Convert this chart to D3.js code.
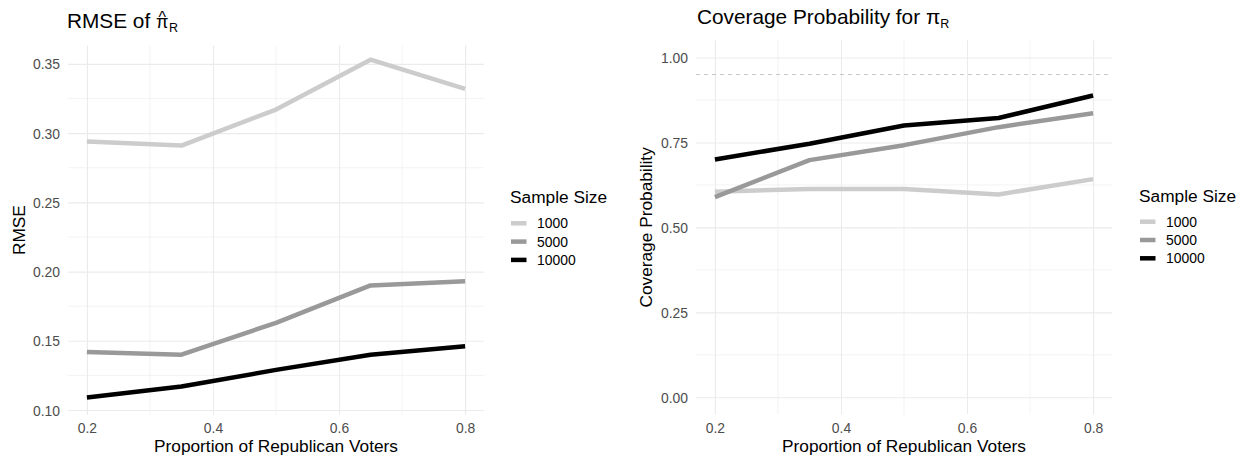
<!DOCTYPE html>
<html>
<head>
<meta charset="utf-8">
<script src="https://cdn.jsdelivr.net/npm/d3@7"></script>
<style>
  html, body { margin: 0; padding: 0; background: #fff; }
  text { font-family: "Liberation Sans", Arial, Helvetica, sans-serif; }
</style>
</head>
<body>
<svg id="chart" width="1246" height="457"></svg>
<script>
// Simulation results by proportion of Republican voters
const proportions = [0.2, 0.35, 0.5, 0.65, 0.8];
const sampleSizes = ["1000", "5000", "10000"];
const lineColors = ["#cccccc", "#999999", "#000000"];

const rmse1000  = [0.294, 0.291, 0.317, 0.353, 0.332];
const rmse5000  = [0.142, 0.140, 0.163, 0.190, 0.193];
const rmse10000 = [0.109, 0.117, 0.129, 0.140, 0.146];

const cover1000  = [0.605, 0.613, 0.613, 0.597, 0.642];
const cover5000  = [0.589, 0.698, 0.742, 0.795, 0.836];
const cover10000 = [0.700, 0.746, 0.800, 0.822, 0.888];

const xTicks = [0.2, 0.4, 0.6, 0.8];
const xMinor = [0.3, 0.5, 0.7];
const rmseTicks = [0.10, 0.15, 0.20, 0.25, 0.30, 0.35];
const rmseMinor = [0.125, 0.175, 0.225, 0.275, 0.325];
const coverTicks = [0.00, 0.25, 0.50, 0.75, 1.00];
const coverMinor = [0.125, 0.375, 0.625, 0.875];
const nominalLevel = 0.95;

const svg = d3.select("#chart");
const gridColor = "#ebebeb";
const tickSize = "13.9px";
const titleSize = "17.3px";

function expand(lo, hi) {
  const pad = (hi - lo) * 0.05;
  return [lo - pad, hi + pad];
}

function drawPanel(opt) {
  const g = svg.append("g");
  const x = d3.scaleLinear().domain(expand(0.2, 0.8)).range([opt.left, opt.right]);
  const y = d3.scaleLinear().domain(expand(opt.yMin, opt.yMax)).range([opt.bottom, opt.top]);

  // minor grid
  g.selectAll(".xminor").data(xMinor).join("line")
    .attr("x1", d => x(d)).attr("x2", d => x(d))
    .attr("y1", opt.top).attr("y2", opt.bottom)
    .attr("stroke", gridColor).attr("stroke-width", 0.6);
  g.selectAll(".yminor").data(opt.yMinor).join("line")
    .attr("x1", opt.left).attr("x2", opt.right)
    .attr("y1", d => y(d)).attr("y2", d => y(d))
    .attr("stroke", gridColor).attr("stroke-width", 0.6);

  // major grid and tick labels via axes
  const xAxis = g.append("g").attr("transform", `translate(0,${opt.bottom})`)
    .call(d3.axisBottom(x).tickValues(xTicks).tickFormat(d3.format(".1f"))
      .tickSize(-(opt.bottom - opt.top)));
  const yAxis = g.append("g").attr("transform", `translate(${opt.left},0)`)
    .call(d3.axisLeft(y).tickValues(opt.yTicks).tickFormat(d3.format(".2f"))
      .tickSize(-(opt.right - opt.left)).tickPadding(8));
  [xAxis, yAxis].forEach(a => {
    a.select(".domain").remove();
    a.selectAll(".tick line").attr("stroke", gridColor).attr("stroke-width", 1.1);
    a.selectAll(".tick text").attr("fill", "#4d4d4d")
      .style("font-size", tickSize).style("font-family", "'Liberation Sans', Arial, sans-serif");
  });
  xAxis.selectAll(".tick text").attr("dy", null).attr("y", 433 - opt.bottom);
  yAxis.selectAll(".tick text").attr("dy", "0.36em");

  if (opt.refLine !== undefined) {
    g.append("line")
      .attr("x1", opt.left).attr("x2", opt.right)
      .attr("y1", y(opt.refLine)).attr("y2", y(opt.refLine))
      .attr("stroke", "#c8c8c8").attr("stroke-width", 1.1)
      .attr("stroke-dasharray", "4,4");
  }

  const line = d3.line().x((d, i) => x(proportions[i])).y(d => y(d));
  opt.series.forEach((vals, k) => {
    g.append("path").datum(vals)
      .attr("d", line)
      .attr("fill", "none")
      .attr("stroke", lineColors[k])
      .attr("stroke-width", 4.5)
      .attr("stroke-linejoin", "round");
  });

  // axis titles
  g.append("text")
    .attr("x", (opt.left + opt.right) / 2).attr("y", 452)
    .attr("text-anchor", "middle").style("font-size", titleSize)
    .text("Proportion of Republican Voters");
  g.append("text")
    .attr("transform", `translate(${opt.yTitleX},${(opt.top + opt.bottom) / 2}) rotate(-90)`)
    .attr("text-anchor", "middle").style("font-size", titleSize)
    .text(opt.yTitle);

  // legend
  const lg = g.append("g").attr("transform", `translate(${opt.legendX},${opt.legendY})`);
  lg.append("text").attr("x", 0).attr("y", 0).style("font-size", titleSize).text("Sample Size");
  sampleSizes.forEach((s, k) => {
    const yy = opt.keyY + k * 18.3;
    lg.append("line").attr("x1", 1).attr("x2", 16.5).attr("y1", yy).attr("y2", yy)
      .attr("stroke", lineColors[k]).attr("stroke-width", 4.5);
    lg.append("text").attr("x", 27).attr("y", yy + 5)
      .style("font-size", tickSize).text(s);
  });

  return g;
}

drawPanel({
  left: 68, right: 484, top: 45.4, bottom: 414.8,
  yMin: 0.1087, yMax: 0.3512,
  yTicks: rmseTicks, yMinor: rmseMinor,
  series: [rmse1000, rmse5000, rmse10000],
  yTitle: "RMSE", yTitleX: 25,
  legendX: 510, legendY: 203, keyY: 20.3
});
drawPanel({
  left: 696, right: 1112, top: 40.5, bottom: 414.3,
  yMin: 0, yMax: 1,
  yTicks: coverTicks, yMinor: coverMinor,
  series: [cover1000, cover5000, cover10000],
  yTitle: "Coverage Probability", yTitleX: 652,
  legendX: 1139, legendY: 201.5, keyY: 20.2,
  refLine: nominalLevel
});

// panel titles with Greek symbols; the estimator hat sits above pi
const t1 = svg.append("text").attr("x", 67).attr("y", 28).style("font-size", "20.8px");
t1.append("tspan").text("RMSE of ");
const piSpan = t1.append("tspan").style("font-size", "18px").text("\u03C0");
const hatSpan = t1.append("tspan").style("font-size", "16px").text("^");
const subSpan = t1.append("tspan").style("font-size", "12.5px").text("R");
const wPi = piSpan.node().getComputedTextLength();
const wHat = hatSpan.node().getComputedTextLength();
const hatLift = -5.5;
hatSpan.attr("dx", -(wPi + wHat) / 2).attr("dy", hatLift);
subSpan.attr("dx", (wPi - wHat) / 2 + 0.5).attr("dy", -hatLift + 3.7);

const t2 = svg.append("text").attr("x", 697).attr("y", 24).style("font-size", "20.8px");
t2.append("tspan").text("Coverage Probability for ");
t2.append("tspan").text("\u03C0");
t2.append("tspan").attr("dy", 3.7).style("font-size", "12.5px").text("R");
</script>
</body>
</html>
